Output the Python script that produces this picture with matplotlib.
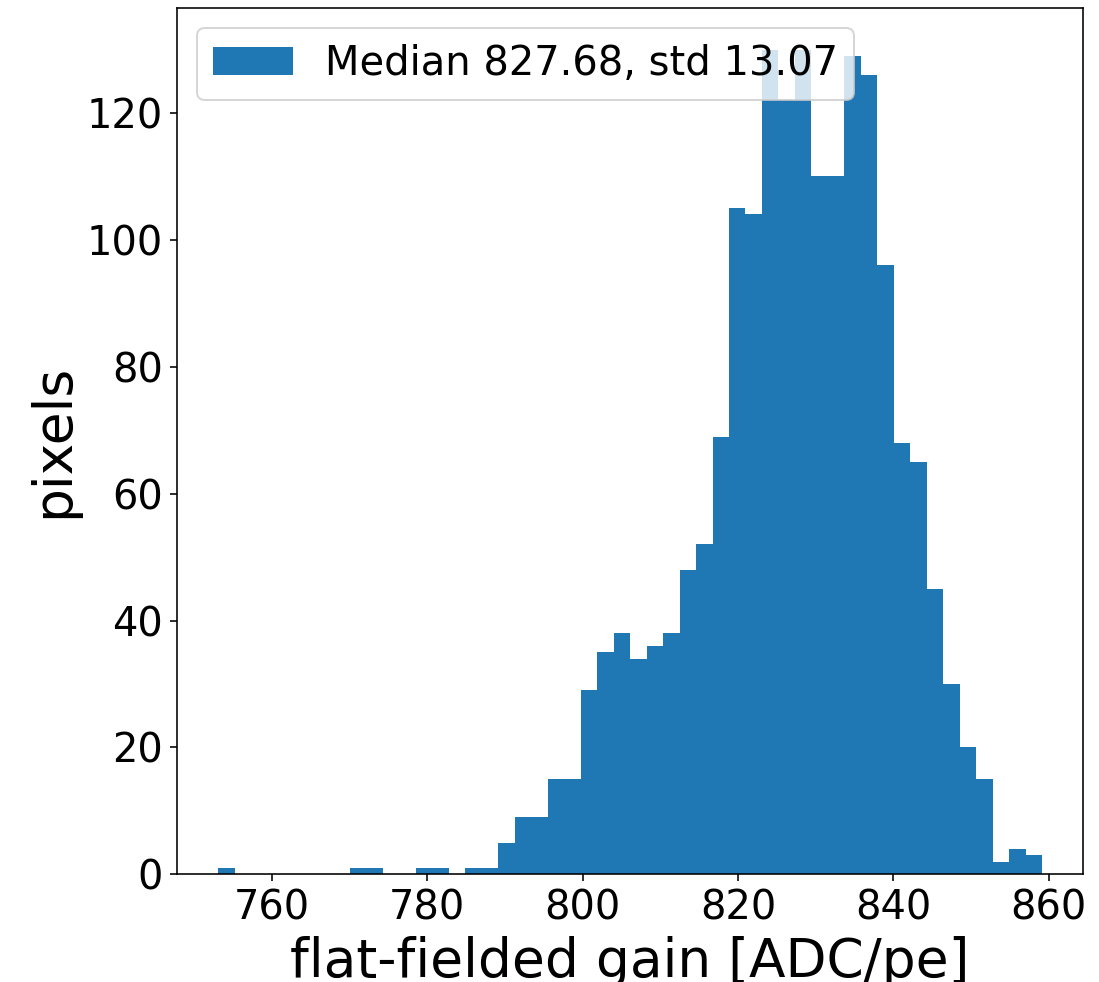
import numpy as np
import matplotlib
matplotlib.use("Agg")
import matplotlib.pyplot as plt

# Histogram data
bin_min = 753.09
bin_max = 859.14
n_bins = 50
counts = [1, 0, 0, 0, 0, 0, 0, 0, 1, 1,
          0, 0, 1, 1, 0, 1, 1, 5, 9, 9,
          15, 15, 29, 35, 38, 34, 36, 38, 48, 52,
          69, 105, 104, 130, 122, 130, 110, 110, 129, 126,
          96, 68, 65, 45, 30, 20, 15, 2, 4, 3]
legend_label = "Median 827.68, std 13.07"
xlabel = "flat-fielded gain [ADC/pe]"
ylabel = "pixels"

edges = np.linspace(bin_min, bin_max, n_bins + 1)

fig = plt.figure(figsize=(1099 / 144, 982 / 144), dpi=144)
ax = fig.add_axes([177 / 1099, 1 - 874.3 / 982, (1083.3 - 177) / 1099, (874.3 - 8.3) / 982])

ax.hist(edges[:-1], bins=edges, weights=counts, color="#1f77b4", label=legend_label)

ax.set_xlabel(xlabel, fontsize=26.7)
ax.set_ylabel(ylabel, fontsize=26.7)
ax.tick_params(labelsize=20)
ax.set_xticks([760, 780, 800, 820, 840, 860])
ax.set_yticks([0, 20, 40, 60, 80, 100, 120])
ax.legend(loc="upper left", fontsize=20)

fig.savefig("out.png", dpi=144)
